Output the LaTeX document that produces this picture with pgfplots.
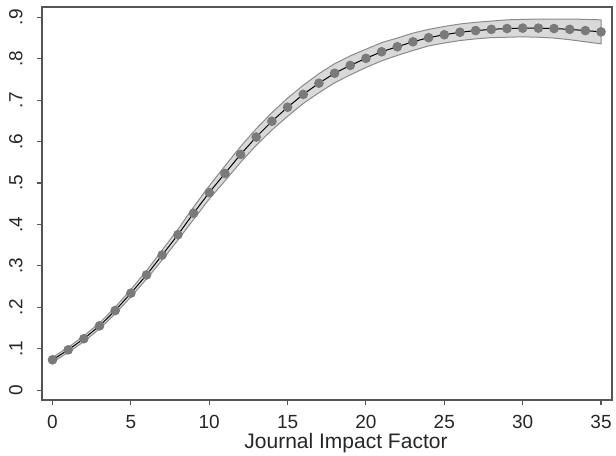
\documentclass[border=0pt]{standalone}
\usepackage{pgfplots}
\pgfplotsset{compat=1.18}
\usepackage{pgfplotstable}
\usepgfplotslibrary{fillbetween}
\usepackage{fontspec}
\setmainfont{Liberation Sans}
\definecolor{axisgray}{HTML}{555555}
\definecolor{bandfill}{HTML}{D9D9D9}
\definecolor{bandline}{HTML}{8A8A8A}
\definecolor{markgray}{HTML}{7A7A7A}
\pgfplotstableread{
x y lo hi
0 0.073 0.067 0.079
1 0.097 0.091 0.103
2 0.124 0.117 0.131
3 0.155 0.148 0.162
4 0.192 0.184 0.200
5 0.234 0.225 0.243
6 0.278 0.268 0.288
7 0.326 0.314 0.338
8 0.375 0.362 0.388
9 0.427 0.412 0.442
10 0.477 0.461 0.493
11 0.523 0.505 0.541
12 0.569 0.550 0.588
13 0.611 0.591 0.631
14 0.649 0.628 0.670
15 0.683 0.661 0.705
16 0.714 0.692 0.736
17 0.741 0.718 0.764
18 0.765 0.742 0.788
19 0.784 0.761 0.807
20 0.801 0.779 0.823
21 0.817 0.795 0.839
22 0.829 0.808 0.850
23 0.841 0.820 0.862
24 0.851 0.831 0.871
25 0.858 0.838 0.878
26 0.864 0.844 0.884
27 0.868 0.848 0.888
28 0.871 0.851 0.891
29 0.873 0.852 0.894
30 0.874 0.853 0.895
31 0.874 0.852 0.896
32 0.873 0.850 0.896
33 0.871 0.846 0.896
34 0.868 0.841 0.895
35 0.865 0.836 0.894
}\datatable
\begin{document}
\begin{tikzpicture}
\begin{axis}[
  scale only axis,
  width=570pt, height=393pt,
  xmin=-0.67, xmax=35.7,
  ymin=-0.024, ymax=0.925,
  axis line style={axisgray, line width=1.4pt},
  xtick={0,5,...,35},
  ytick={0,0.1,...,0.9},
  yticklabels={0,.1,.2,.3,.4,.5,.6,.7,.8,.9},
  tick align=outside,
  xtick pos=bottom, ytick pos=left,
  major tick length=5pt,
  tick style={axisgray, line width=1.1pt},
  /pgf/number format/assume math mode=true,
  ticklabel style={font=\fontsize{19}{22}\selectfont, text=black!85},
  yticklabel style={xshift=-11pt, rotate=90, anchor=south},
  xticklabel style={yshift=-7pt},
  xlabel={Journal Impact Factor},
  xlabel style={font=\fontsize{21}{24}\selectfont, text=black!85, yshift=3pt, xshift=19pt},
  clip=false,
]
\addplot[name path=hi, draw=none, forget plot] table[x=x, y=hi] {\datatable};
\addplot[name path=lo, draw=none, forget plot] table[x=x, y=lo] {\datatable};
\addplot[fill=bandfill, draw=bandline, line width=1pt] fill between[of=hi and lo];
\addplot[black, line width=1pt, mark=*, mark size=4.3pt,
  mark options={fill=markgray, draw=markgray}] table[x=x, y=y] {\datatable};
\end{axis}
\path (current axis.north west) ++(-42pt,7pt);
\path (current axis.south east) ++(4pt,-54pt);
\end{tikzpicture}
\end{document}
